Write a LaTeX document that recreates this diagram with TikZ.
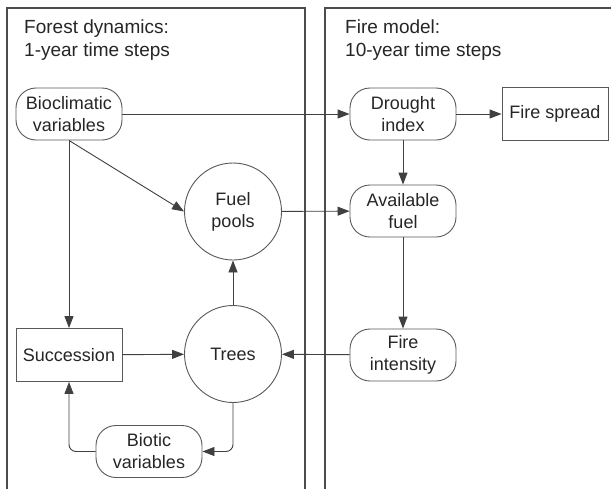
\documentclass[tikz,border=0pt]{standalone}
\usepackage{fontspec}
\setmainfont{Liberation Sans}
\usepackage{tikz}
\usetikzlibrary{arrows.meta}

\begin{document}
\begin{tikzpicture}[x=1pt, y=-1pt,
        every node/.style={font=\fontsize{18}{22}\selectfont, text=black!85},
        rbox/.style={draw=black!65, line width=0.9pt, rounded corners=20pt, minimum width=106pt, minimum height=52pt, align=center, inner sep=2pt},
        sbox/.style={draw=black!65, line width=0.9pt, minimum width=106pt, minimum height=53pt, align=center},
        pool/.style={draw=black!65, line width=0.9pt, circle, minimum size=97pt, align=center, inner sep=0pt},
        arr/.style={-{Triangle[length=12pt,width=9pt]}, draw=black!75, line width=0.9pt}]
        \clip (0,0) rectangle (611,488);
        \fill[white] (0,0) rectangle (611,488);

        % Panels
        \draw[black!70, line width=1.1pt] (7,500) -- (7,8) -- (305,8) -- (305,500);
        \draw[black!70, line width=1.1pt] (325,500) -- (325,8) -- (620,8);
        \node[anchor=north west, align=left, inner sep=0pt, font=\fontsize{19}{23}\selectfont] (forestlbl) at (24,20) {Forest dynamics:\\1-year time steps};
        \node[anchor=north west, align=left, inner sep=0pt, font=\fontsize{19}{23}\selectfont] (firelbl) at (345,20) {Fire model:\\10-year time steps};

        % Forest dynamics
        \node[rbox] (bioclim) at (69,114) {Bioclimatic\\variables};
        \node[pool] (fuel) at (233,211.5) {Fuel\\pools};
        \node[pool] (trees) at (233,354) {Trees};
        \node[sbox] (succ) at (69,355) {Succession};
        \node[rbox] (biotic) at (149,451.5) {Biotic\\variables};

        % Fire model
        \node[rbox] (drought) at (403,114) {Drought\\index};
        \node[sbox] (spread) at (555,114) {Fire spread};
        \node[rbox] (avail) at (403,211) {Available\\fuel};
        \node[rbox] (intens) at (403,355) {Fire\\intensity};

        % Connectors
        \draw[arr] (bioclim) -- (drought);
        \draw[arr] (bioclim.south) -- (fuel.west);
        \draw[arr] (bioclim.south) -- (succ.north);
        \draw[arr] (drought) -- (spread);
        \draw[arr] (drought) -- (avail);
        \draw[arr] (fuel) -- (avail);
        \draw[arr] (avail) -- (intens);
        \draw[arr] (intens) -- (trees);
        \draw[arr] (trees) -- (fuel);
        \draw[arr] (succ) -- (trees);
        \draw[arr, rounded corners=7pt] (trees.south) |- (biotic.east);
        \draw[arr, rounded corners=7pt] (biotic.west) -| (succ.south);
    \end{tikzpicture}
\end{document}
